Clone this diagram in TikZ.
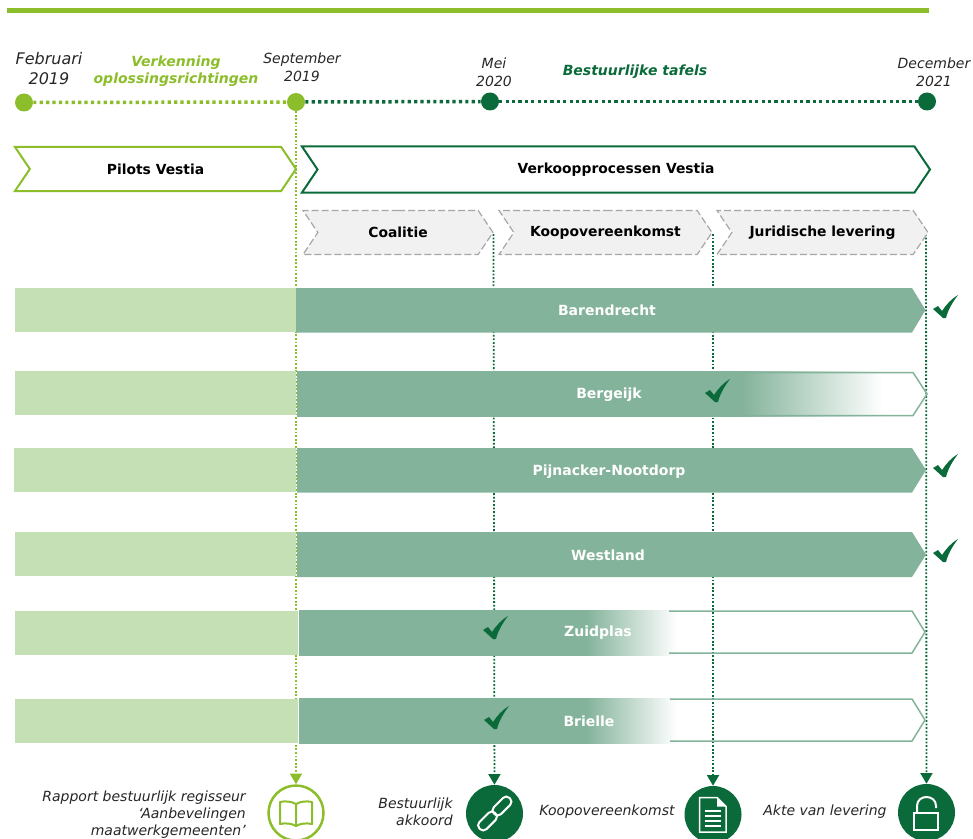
\documentclass[tikz,border=0pt]{standalone}
\usepackage{fontspec}
\setmainfont{DejaVu Sans}
\usetikzlibrary{
  arrows.meta,
  shapes.symbols,
  chains,
  scopes
}
\definecolor{lightgreen}{HTML}{8CBD2A}
\definecolor{darkgreen}{HTML}{0A6A39}
\definecolor{barfill}{HTML}{84B39B}
\definecolor{barpale}{HTML}{C6E0B5}
\definecolor{greyfill}{HTML}{F1F1F1}
\pgfdeclarehorizontalshading{barfade}{100bp}{color(0bp)=(barfill); color(63bp)=(barfill); color(75bp)=(white); color(100bp)=(white)}
\def\px{0.75pt}

\begin{document}
\begin{tikzpicture}[
      x=0.75pt,y=-0.75pt,
      point/.style={coordinate},
      milestone/.style={circle,inner sep=0pt,minimum size=18*\px},
      datelabel/.style={font=\fontsize{10.5}{13.5}\selectfont\itshape,align=center,text=black!85},
      phaselabel/.style={font=\fontsize{10.5}{13}\selectfont\bfseries\itshape,align=center},
      doclabel/.style={font=\fontsize{10.5}{12.8}\selectfont\itshape,text=black!85,inner sep=0pt},
      mainarrow/.style={
         signal,signal to=east,signal from=west,signal pointer angle=112,
         inner sep=0pt,outer sep=0pt,line width=2*\px,fill=white,
         minimum height=44*\px,
         font=\fontsize{10.4}{12}\selectfont\bfseries
      },
      subarrow/.style={
         mainarrow,draw=black!35,line width=1.2*\px,fill=greyfill,dash pattern=on 7*\px off 3*\px
      },
      palebar/.style={
         rectangle,fill=barpale,inner sep=0pt,outer sep=0pt,
         minimum width=281*\px,minimum height=44*\px
      },
      fadebar/.style={rectangle,shading=barfade,inner sep=0pt,outer sep=0pt,minimum height=45*\px},
      openbar/.style={draw=barfill,line width=1.5*\px},
      barlabel/.style={text=white,font=\fontsize{10.5}{12}\selectfont\bfseries},
      icondisc/.style={circle,inner sep=0pt,minimum size=57*\px},
      lightdots/.style={draw=lightgreen,line width=3.5*\px,dash pattern=on 3.2*\px off 3.2*\px},
      darkdots/.style={draw=darkgreen,line width=3.5*\px,dash pattern=on 3.2*\px off 3.2*\px},
      lighttip/.style={draw=lightgreen,line width=1.8*\px,dash pattern=on 1.8*\px off 1.8*\px,-{Triangle[width=9pt,length=8pt]}},
      darktip/.style={draw=darkgreen,line width=1.8*\px,dash pattern=on 1.8*\px off 1.8*\px,-{Triangle[width=9pt,length=8pt]}},
      checkmark/.pic={
         \fill[darkgreen] (0,0) -- (-10,-9) -- (-5,-12) -- (-1,-7) .. controls (3,-13) and (8,-19) .. (15,-23)
            .. controls (9,-15) and (5,-8) .. (3,0) -- cycle;
      }
    ]
    \useasboundingbox (0,0) rectangle (973,838);
    \node (topbar) [rectangle,fill=lightgreen,inner sep=0pt,minimum width=922*\px,minimum height=5.5*\px] at (468,10.7) {};
    % timeline
    \node (feb) [milestone,fill=lightgreen] at (24,102.5) {};
    \node (sep) [milestone,fill=lightgreen] at (296,102) {};
    \node (mei) [milestone,fill=darkgreen] at (490,101.5) {};
    \node (dec) [milestone,fill=darkgreen] at (927,101.5) {};
    \node (febtext) [datelabel,font=\fontsize{12}{15}\selectfont\itshape] at (49,69) {Februari\\2019};
    \node (septext) [datelabel] at (302,67) {September\\2019};
    \node (meitext) [datelabel] at (494,72) {Mei\\2020};
    \node (dectext) [datelabel] at (934,72) {December\\2021};
    \node (verkenning) [phaselabel,text=lightgreen] at (176,71) {Verkenning\\oplossingsrichtingen};
    \node (tafels) [phaselabel,text=darkgreen] at (635,72) {Bestuurlijke tafels};
    % end products
    \node (book) [icondisc,draw=lightgreen,line width=2.5*\px,fill=white,minimum size=55*\px] at (296,813) {};
    \node (chain) [icondisc,fill=darkgreen] at (494.5,813.5) {};
    \node (contract) [icondisc,fill=darkgreen] at (713,814.5) {};
    \node (deed) [icondisc,fill=darkgreen] at (926.5,812.5) {};
    \node (rapporttext) [doclabel,align=right,anchor=east] at (246,815) {Rapport bestuurlijk regisseur\\‘Aanbevelingen\\maatwerkgemeenten’};
    \node (akkoordtext) [doclabel,align=right,anchor=east] at (453,811.5) {Bestuurlijk\\akkoord};
    \node (koopdoc) [doclabel] at (607,812) {Koopovereenkomst};
    \node (aktedoc) [doclabel] at (825,812) {Akte van levering};
    % start of the vertical lines
    \node (coalend) [point] at (493.5,234) {};
    \node (koopend) [point] at (713,234) {};
    \node (juriend) [point] at (926,234) {};
  { [start chain]
       \chainin (feb);
       \chainin (sep)    [join=by lightdots];
  }
  { [start chain]
       \chainin (sep);
       \chainin (mei)    [join=by darkdots];
  }
  { [start chain]
       \chainin (mei);
       \chainin (dec)    [join=by darkdots];
  }
  { [start chain]
       \chainin (sep);
       \chainin (book)    [join=by lighttip];
  }
  { [start chain]
       \chainin (coalend);
       \chainin (chain)    [join=by darktip];
  }
  { [start chain]
       \chainin (koopend);
       \chainin (contract)    [join=by darktip];
  }
  { [start chain]
       \chainin (juriend);
       \chainin (deed)    [join=by darktip];
  }
    % process arrows
    \node (pilots) [mainarrow,draw=lightgreen,minimum width=281*\px] at (155.5,169) {Pilots Vestia};
    \node (verkoop) [mainarrow,draw=darkgreen,minimum width=628*\px,minimum height=46*\px] at (616,169.5) {Verkoopprocessen Vestia};
    \node (coalitie) [subarrow,minimum width=190*\px] at (398,232.5) {Coalitie};
    \node (koop) [subarrow,minimum width=213*\px] at (605.5,232.5) {Koopovereenkomst};
    \node (juri) [subarrow,minimum width=211*\px] at (822.5,232.5) {Juridische levering};
    % municipalities
    \node (pale1) [palebar] at (155.5,310) {};
    \fill[barfill] (296,288) -- (912,288) -- (925.5,310) -- (912,332.5) -- (296,332.5) -- cycle;
    \node (name1) [barlabel] at (607,310) {Barendrecht};
    \node (pale2) [palebar] at (155.5,393) {};
    \node (fade2) [fadebar,minimum width=586*\px] at (590,394) {};
    \draw[openbar] (745,372.5) -- (913,372.5) -- (927,394) -- (913,415.5) -- (745,415.5);
    \node (name2) [barlabel] at (609,395) {Bergeijk};
    \node (pale3) [palebar,minimum width=282*\px] at (155,470) {};
    \fill[barfill] (297,448) -- (912,448) -- (926,470) -- (912,492.5) -- (297,492.5) -- cycle;
    \node (name3) [barlabel] at (609,472) {Pijnacker-Nootdorp};
    \node (pale4) [palebar] at (155.5,554) {};
    \fill[barfill] (297,532) -- (912,532) -- (926,554.5) -- (912,577) -- (297,577) -- cycle;
    \node (name4) [barlabel] at (608,555) {Westland};
    \node (pale5) [palebar,minimum width=283*\px] at (156.5,633) {};
    \node (fade5) [fadebar,minimum width=378*\px] at (488,632.5) {};
    \draw[openbar] (669,611) -- (912,611) -- (925,632) -- (912,653) -- (669,653);
    \node (name5) [barlabel] at (598,633) {Zuidplas};
    \node (pale6) [palebar,minimum width=283*\px] at (156.5,720.5) {};
    \node (fade6) [fadebar,minimum width=378*\px] at (488,720.5) {};
    \draw[openbar] (670,699) -- (912,699) -- (925,720) -- (912,741) -- (670,741);
    \node (name6) [barlabel] at (589,721) {Brielle};
    % checks
    \pic at (943,318) {checkmark};
    \pic at (715,402) {checkmark};
    \pic at (943,477) {checkmark};
    \pic at (943,562) {checkmark};
    \pic at (493,639) {checkmark};
    \pic at (494,729) {checkmark};
    % book
    \draw[lightgreen,line width=2*\px,line join=round] (296,804) .. controls (291,801) and (285,801) .. (280,802) -- (280,824) .. controls (285,823) and (291,823) .. (296,826)
       .. controls (301,823) and (307,823) .. (312,824) -- (312,802) .. controls (307,801) and (301,801) .. (296,804) -- cycle (296,804) -- (296,826);
    % chain links
    \node (linka) [draw=white,line width=2*\px,rounded corners=4.5*\px,inner sep=0pt,minimum width=22*\px,minimum height=10*\px,rotate=45] at (487.5,821) {};
    \node (linkb) [draw=white,line width=2*\px,rounded corners=4.5*\px,inner sep=0pt,minimum width=22*\px,minimum height=10*\px,rotate=45] at (502,806) {};
    % document
    \draw[white,line width=1.5*\px] (699.5,797.5) -- (717,797.5) -- (726,806.5) -- (726,832) -- (699.5,832) -- cycle;
    \fill[white] (717,797.5) -- (726,806.5) -- (717,806.5) -- cycle;
    \draw[white,line width=2*\px] (705,810.5) -- (721,810.5) (705,815.5) -- (721,815.5) (705,820.5) -- (721,820.5) (705,825.5) -- (721,825.5);
    % lock
    \draw[white,line width=2*\px] (913.5,813) rectangle (938,830);
    \draw[white,line width=2*\px] (917,813) -- (917,806) .. controls (917,794) and (936,794) .. (936,806) -- (936,808);
\end{tikzpicture}
\end{document}
